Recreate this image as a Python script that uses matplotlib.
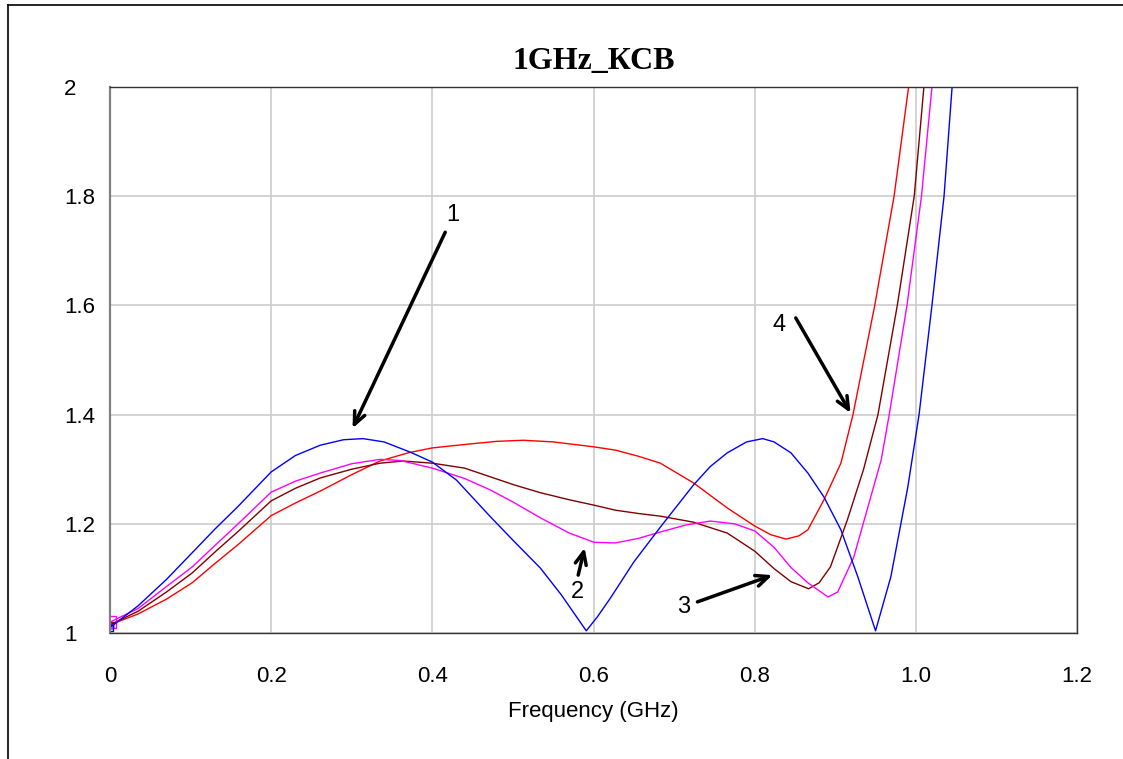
import matplotlib
matplotlib.use('Agg')
import matplotlib.pyplot as plt
from matplotlib.lines import Line2D

# curve 1 (blue)
f1 = [0, 0.035, 0.07, 0.102, 0.13, 0.159, 0.2, 0.23, 0.261, 0.29, 0.314, 0.34, 0.373,
      0.4, 0.43, 0.472, 0.5, 0.534, 0.56, 0.591, 0.605, 0.621, 0.65, 0.683, 0.724,
      0.745, 0.766, 0.79, 0.81, 0.824, 0.845, 0.866, 0.886, 0.907, 0.928, 0.95,
      0.969, 0.99, 1.004, 1.02, 1.035, 1.045]
v1 = [1.01, 1.05, 1.098, 1.147, 1.19, 1.232, 1.295, 1.325, 1.344, 1.354, 1.356, 1.350, 1.331,
      1.313, 1.280, 1.213, 1.17, 1.119, 1.07, 1.004, 1.03, 1.064, 1.13, 1.194, 1.271,
      1.305, 1.330, 1.350, 1.356, 1.350, 1.33, 1.293, 1.249, 1.189, 1.103, 1.004,
      1.103, 1.267, 1.40, 1.60, 1.80, 2.0]

# curve 2 (magenta)
f2 = [0, 0.035, 0.07, 0.102, 0.13, 0.159, 0.2, 0.23, 0.261, 0.3, 0.335, 0.36, 0.4,
      0.44, 0.472, 0.5, 0.534, 0.57, 0.601, 0.627, 0.655, 0.683, 0.715, 0.745, 0.775,
      0.8, 0.824, 0.845, 0.866, 0.891, 0.903, 0.923, 0.944, 0.957, 0.967, 0.989,
      1.007, 1.02]
v2 = [1.02, 1.045, 1.085, 1.121, 1.16, 1.200, 1.258, 1.278, 1.293, 1.310, 1.318, 1.316, 1.302,
      1.283, 1.262, 1.240, 1.211, 1.183, 1.166, 1.165, 1.173, 1.185, 1.198, 1.205, 1.200,
      1.187, 1.157, 1.12, 1.092, 1.066, 1.075, 1.139, 1.249, 1.317, 1.40, 1.60,
      1.80, 2.0]

# curve 3 (brown)
f3 = [0, 0.035, 0.07, 0.102, 0.13, 0.159, 0.2, 0.23, 0.261, 0.3, 0.335, 0.364, 0.4,
      0.44, 0.472, 0.5, 0.534, 0.57, 0.601, 0.627, 0.655, 0.683, 0.724, 0.766, 0.8,
      0.824, 0.845, 0.867, 0.88, 0.894, 0.915, 0.935, 0.953, 0.977, 0.998, 1.01]
v3 = [1.015, 1.04, 1.075, 1.110, 1.148, 1.186, 1.242, 1.265, 1.284, 1.300, 1.311, 1.315, 1.311,
      1.302, 1.286, 1.272, 1.257, 1.244, 1.234, 1.225, 1.219, 1.214, 1.203, 1.183, 1.150,
      1.118, 1.094, 1.081, 1.092, 1.121, 1.207, 1.299, 1.40, 1.60, 1.80, 2.0]

# curve 4 (red)
f4 = [0, 0.035, 0.07, 0.102, 0.13, 0.159, 0.2, 0.23, 0.261, 0.3, 0.335, 0.37, 0.4,
      0.445, 0.48, 0.513, 0.55, 0.6, 0.627, 0.655, 0.683, 0.724, 0.766, 0.8, 0.82,
      0.839, 0.855, 0.866, 0.886, 0.907, 0.922, 0.949, 0.973, 0.991]
v4 = [1.015, 1.035, 1.062, 1.092, 1.127, 1.162, 1.215, 1.238, 1.260, 1.290, 1.315, 1.330, 1.339,
      1.346, 1.351, 1.353, 1.350, 1.341, 1.335, 1.324, 1.311, 1.275, 1.229, 1.196, 1.180,
      1.172, 1.178, 1.189, 1.244, 1.311, 1.40, 1.60, 1.80, 2.0]

x_ticks = [0, 0.2, 0.4, 0.6, 0.8, 1.0, 1.2]
x_labels = ['0', '0.2', '0.4', '0.6', '0.8', '1.0', '1.2']
y_ticks = [1, 1.2, 1.4, 1.6, 1.8, 2]
y_labels = ['1', '1.2', '1.4', '1.6', '1.8', '2']

fig = plt.figure(figsize=(11.23, 7.59), dpi=100)
ax = fig.add_axes([110 / 1123, 1 - 633 / 759, 967 / 1123, 546 / 759])

ax.plot(f4, v4, color='#ff0000', lw=1.0, marker='s', markevery=[0], ms=5, mfc='none', mew=1.0)
ax.plot(f3, v3, color='#800000', lw=1.0, marker='s', markevery=[0], ms=5, mfc='none', mew=1.0)
ax.plot(f2, v2, color='#ff00ff', lw=1.0, marker='s', markevery=[0], ms=8, mfc='none', mew=1.0)
ax.plot(f1, v1, color='#0000ff', lw=1.0, marker='s', markevery=[0], ms=4, mfc='none', mew=1.0)

ax.set_xlim(0, 1.2)
ax.set_ylim(1, 2)
ax.set_xticks(x_ticks)
ax.set_xticklabels(x_labels, family='Liberation Sans', fontsize=16)
ax.set_yticks(y_ticks)
ax.set_yticklabels(y_labels, family='Liberation Sans', fontsize=16, ha='left')
ax.tick_params(axis='y', length=0, pad=33)
ax.tick_params(axis='x', length=0, pad=24)
ax.grid(True, color='#cccccc', lw=1.2)
ax.set_axisbelow(True)
for s in ['top', 'right', 'bottom']:
    ax.spines[s].set_color('#333333')
    ax.spines[s].set_linewidth(1.0)
ax.spines['left'].set_color('#808080')
ax.spines['left'].set_linewidth(1.6)

ax.set_title('1GHz_КСВ', family='Liberation Serif', fontweight='bold', fontsize=23, pad=13)
ax.set_xlabel('Frequency (GHz)', family='Liberation Sans', fontsize=16, labelpad=10)

# arrows with numbers
arrows = [
    ('1', (0.425, 1.766), (0.416, 1.734), (0.301, 1.375)),
    ('2', (0.580, 1.075), (0.581, 1.106), (0.589, 1.156)),
    ('3', (0.712, 1.048), (0.729, 1.057), (0.822, 1.106)),
    ('4', (0.830, 1.564), (0.851, 1.577), (0.919, 1.403)),
]
for lab, lpos, tail, head in arrows:
    ax.text(lpos[0], lpos[1], lab, family='Liberation Sans', fontsize=17, ha='center', va='center')
    ax.annotate('', xy=head, xytext=tail,
                arrowprops=dict(arrowstyle='->,head_length=0.9,head_width=0.4', lw=2.5, color='black',
                                shrinkA=0, shrinkB=0))

# outer window frame
fig.add_artist(Line2D([8 / 1123, 8 / 1123], [0, 1 - 5 / 759], color='black', lw=1.2, transform=fig.transFigure))
fig.add_artist(Line2D([8 / 1123, 1], [1 - 5 / 759, 1 - 5 / 759], color='black', lw=1.2, transform=fig.transFigure))

fig.savefig('out.png', dpi=100)
